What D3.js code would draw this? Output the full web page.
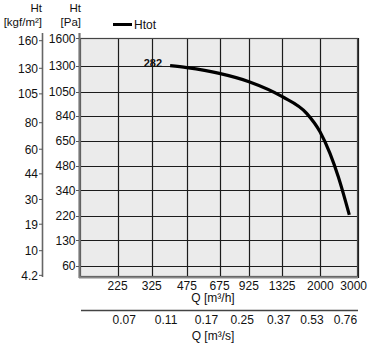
<!DOCTYPE html>
<html>
<head>
<meta charset="utf-8">
<script src="https://cdn.jsdelivr.net/npm/d3@7/dist/d3.min.js"></script>
<style>
  html, body { margin: 0; padding: 0; background: #fff; }
  svg { display: block; font-family: "Liberation Sans", Arial, sans-serif; }
</style>
</head>
<body>
<svg id="chart" width="371" height="343"></svg>
<script>
// Fan curve: total pressure vs. airflow
const flowM3h = [396, 474, 673, 927, 1327, 1725, 1992, 2218, 2426, 2732];
const htotPa  = [1302, 1282, 1225, 1144, 1005, 861, 715, 561, 415, 224];

const paTicks   = [1600, 1300, 1050, 840, 650, 480, 340, 220, 130, 60];
const kgfTicks  = [160, 130, 105, 80, 60, 44, 30, 19, 10, 4.2];
const qhTicks   = [225, 325, 475, 675, 925, 1325, 2000, 3000];
const qsTicks   = [0.07, 0.11, 0.17, 0.25, 0.37, 0.53, 0.76];
const curveLabel = "282";
const PA_PER_KGF = 9.81;

const svg = d3.select("#chart");
const L = 80, R = 358, T = 38, B = 276;

const x = d3.scaleLog().domain([150, 3000]).range([L, R]);
const y = d3.scaleSqrt().domain([40, 1600]).range([B, T]);
const xs = d3.scaleLog().domain(x.domain().map(d => d / 3600)).range([L - 4, R - 4]);

const txt = "#111";

// plot background
svg.append("rect").attr("x", L).attr("y", T).attr("width", R - L).attr("height", B - T)
  .attr("fill", "#ebebeb");

// grid
const grid = svg.append("g").attr("stroke", "#1c1c1c").attr("stroke-width", 1.2);
grid.selectAll("line.h").data(paTicks).join("line").attr("class", "h")
  .attr("x1", L).attr("x2", R).attr("y1", d => Math.round(y(d)) + 0.5).attr("y2", d => Math.round(y(d)) + 0.5);
grid.selectAll("line.v").data(qhTicks).join("line").attr("class", "v")
  .attr("y1", T).attr("y2", B + 2).attr("x1", d => Math.round(x(d)) + 0.5).attr("x2", d => Math.round(x(d)) + 0.5);

// frame with shadowed left/bottom edges
svg.append("rect").attr("x", L + 0.5).attr("y", T + 0.5).attr("width", R - L - 1).attr("height", B - T)
  .attr("fill", "none").attr("stroke", "#444").attr("stroke-width", 1.2);
svg.append("line").attr("x1", L - 0.5).attr("x2", L - 0.5).attr("y1", T - 5).attr("y2", B + 2)
  .attr("stroke", "#777").attr("stroke-width", 2.2);
svg.append("line").attr("x1", L - 1).attr("x2", R).attr("y1", B + 1.5).attr("y2", B + 1.5)
  .attr("stroke", "#888").attr("stroke-width", 2);

// Pa axis ticks and labels
const paAxis = svg.append("g");
paAxis.selectAll("line").data(paTicks).join("line")
  .attr("x1", L - 4).attr("x2", L - 1).attr("y1", d => Math.round(y(d)) + 0.5).attr("y2", d => Math.round(y(d)) + 0.5)
  .attr("stroke", "#555");
paAxis.selectAll("text").data(paTicks).join("text")
  .attr("x", L - 4.5).attr("y", d => y(d) + 4.5).attr("text-anchor", "end")
  .attr("font-size", 12).attr("fill", txt).text(d => d);

// kgf/m² axis, same pressure scale converted
const KX = 42.5;
svg.append("line").attr("x1", KX).attr("x2", KX).attr("y1", T - 5).attr("y2", B + 1)
  .attr("stroke", "#666").attr("stroke-width", 1.6);
const kAxis = svg.append("g");
kAxis.selectAll("line").data(kgfTicks).join("line")
  .attr("x1", KX - 3.5).attr("x2", KX).attr("y1", d => y(d * PA_PER_KGF)).attr("y2", d => y(d * PA_PER_KGF))
  .attr("stroke", "#555");
kAxis.selectAll("text").data(kgfTicks).join("text")
  .attr("x", KX - 4.5).attr("y", d => y(d * PA_PER_KGF) + 4.5).attr("text-anchor", "end")
  .attr("font-size", 12).attr("fill", txt).text(d => d);

// axis titles
const titles = [
  { x: 42, y: 12, t: "Ht" }, { x: 42, y: 25.5, t: "[kgf/m²]" },
  { x: 81, y: 12, t: "Ht" }, { x: 81, y: 25.5, t: "[Pa]" }
];
svg.selectAll("text.ttl").data(titles).join("text").attr("class", "ttl")
  .attr("x", d => d.x).attr("y", d => d.y).attr("text-anchor", "end")
  .attr("font-size", 11.5).attr("fill", txt).text(d => d.t);

// m³/h axis labels
svg.append("g").selectAll("text").data(qhTicks).join("text")
  .attr("x", d => x(d)).attr("y", 289.5).attr("text-anchor", d => d === 3000 ? "end" : "middle")
  .attr("dx", d => d === 3000 ? 9 : 0)
  .attr("font-size", 12).attr("fill", txt).text(d => d);
svg.append("text").attr("x", 213).attr("y", 302).attr("text-anchor", "middle")
  .attr("font-size", 12).attr("fill", txt).text("Q [m³/h]");

// m³/s axis
svg.append("line").attr("x1", L + 1).attr("x2", R).attr("y1", 310.5).attr("y2", 310.5)
  .attr("stroke", "#444").attr("stroke-width", 1.4);
svg.append("g").selectAll("text").data(qsTicks).join("text")
  .attr("x", d => xs(d)).attr("y", 323.5).attr("text-anchor", "middle")
  .attr("font-size", 12).attr("fill", txt).text(d => d);
svg.append("text").attr("x", 213).attr("y", 340).attr("text-anchor", "middle")
  .attr("font-size", 12).attr("fill", txt).text("Q [m³/s]");

// Htot curve
const pts = flowM3h.map((q, i) => [x(q), y(htotPa[i])]);
svg.append("path").attr("d", d3.line().curve(d3.curveMonotoneX)(pts))
  .attr("fill", "none").attr("stroke", "#000").attr("stroke-width", 3.2).attr("stroke-linecap", "butt");
svg.append("text").attr("x", pts[0][0] - 8).attr("y", pts[0][1] + 1.5).attr("text-anchor", "end")
  .attr("font-size", 11).attr("font-weight", "bold").attr("fill", "#111").text(curveLabel);

// legend
svg.append("line").attr("x1", 113).attr("x2", 132).attr("y1", 24.5).attr("y2", 24.5)
  .attr("stroke", "#000").attr("stroke-width", 3);
svg.append("text").attr("x", 134).attr("y", 29).attr("font-size", 12).attr("fill", txt).text("Htot");
</script>
</body>
</html>
